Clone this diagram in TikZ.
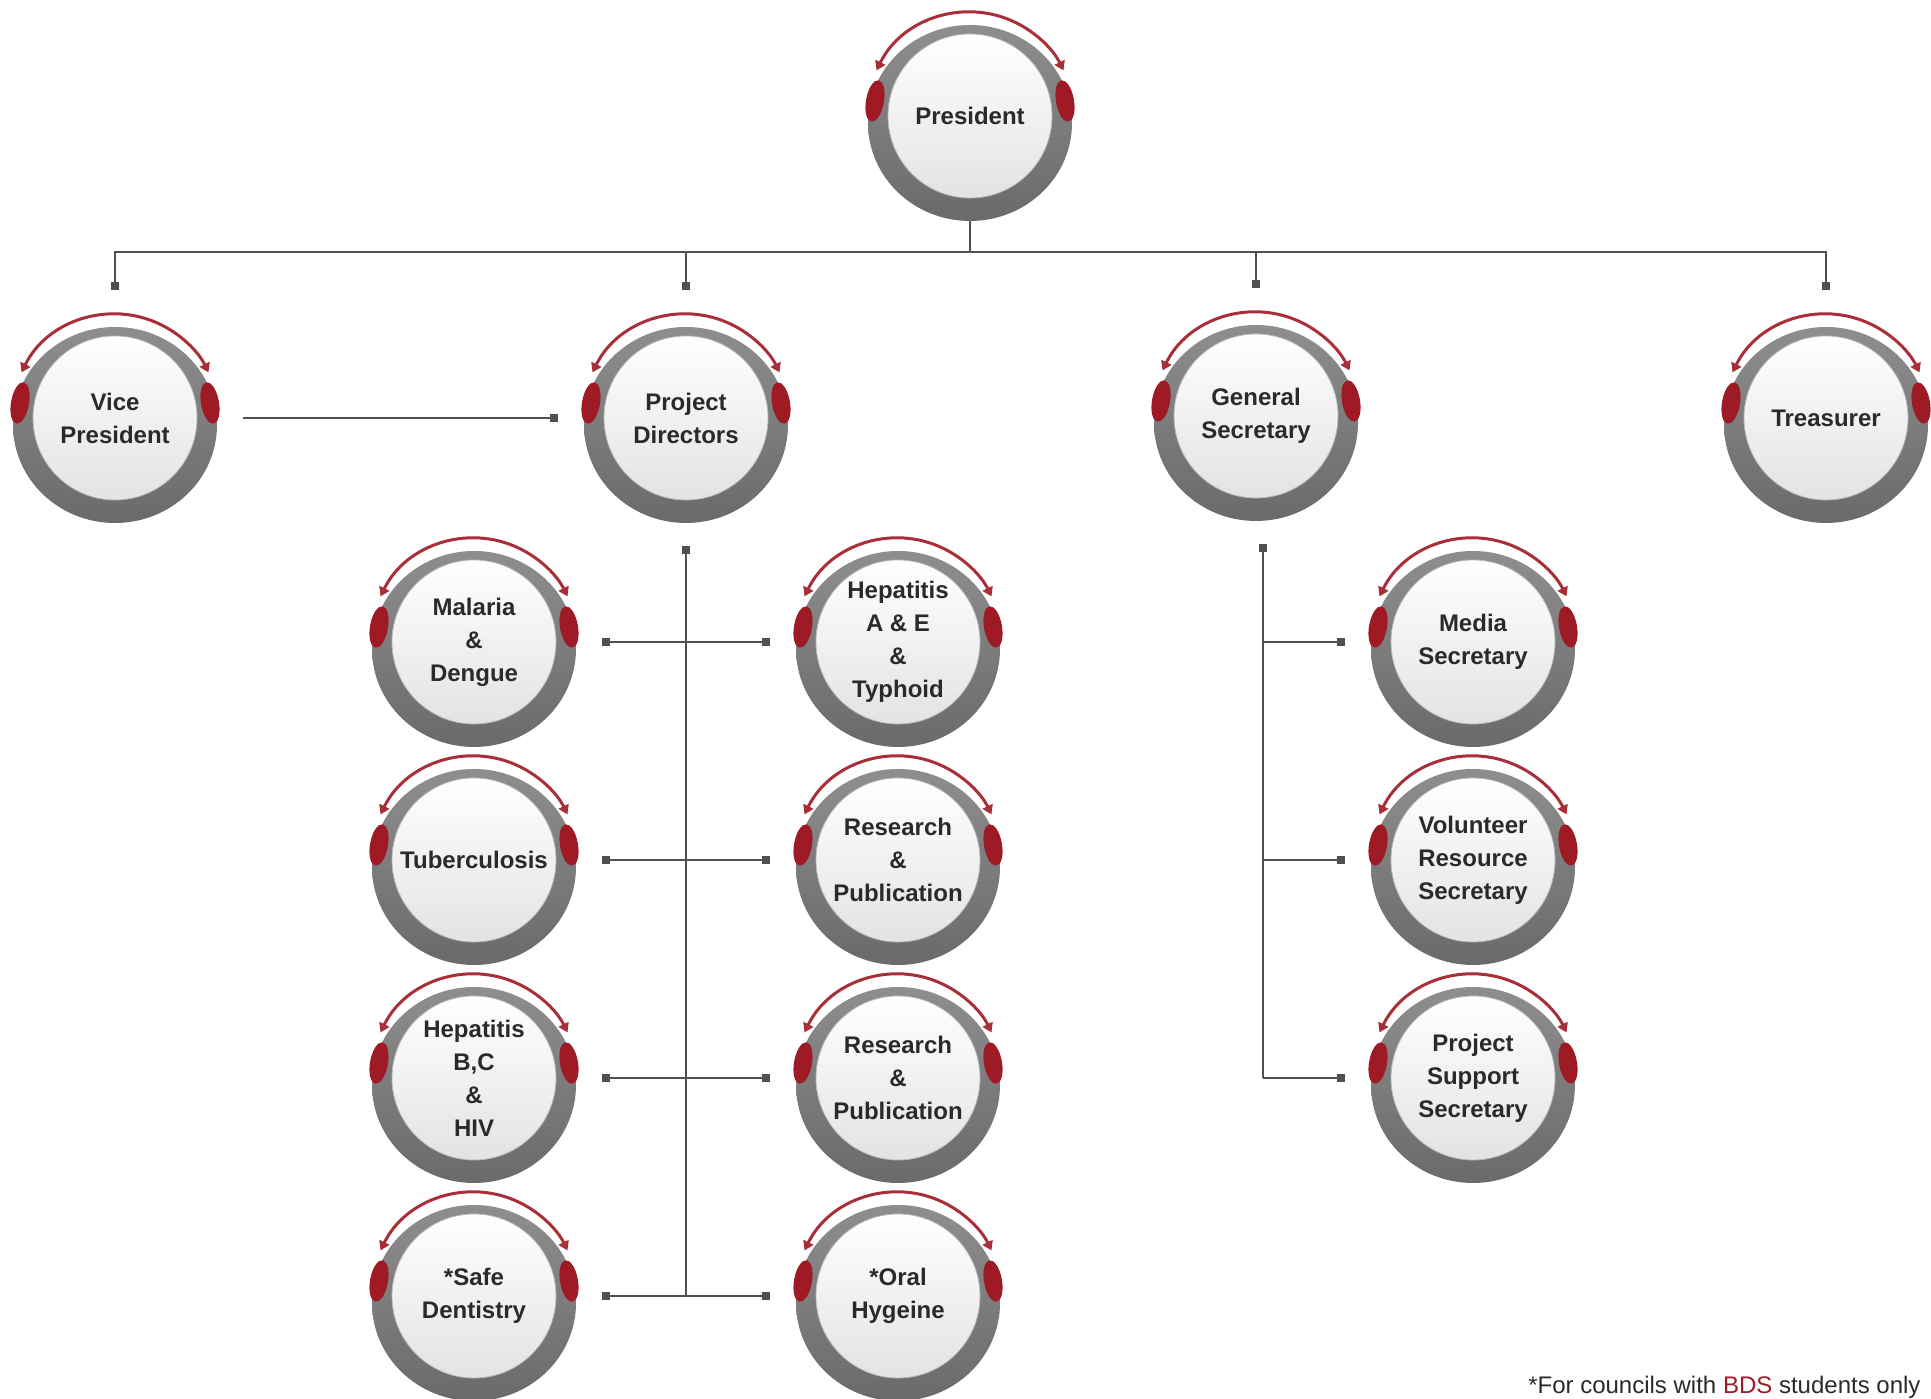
\documentclass[tikz,border=0pt]{standalone}
\usepackage{fontspec}
\setmainfont{Liberation Sans}
\usetikzlibrary{arrows.meta,backgrounds}

\definecolor{ringgray}{HTML}{6A6A6A}
\definecolor{ringlight}{HTML}{8E8E8E}
\definecolor{tabred}{HTML}{9E1B25}
\definecolor{arcred}{HTML}{A82E38}
\definecolor{linegray}{HTML}{505050}
\definecolor{textgray}{HTML}{2A2A2A}

\tikzset{
  member/.style={circle, minimum size=164pt, inner sep=0pt, outer sep=46pt,
    draw=black!28, line width=0.8pt, top color=white, bottom color=black!11,
    align=center, text=textgray, font=\bfseries\fontsize{24}{33}\selectfont},
  link/.style={draw=linegray, line width=2.6pt},
  sq/.tip={Square[length=8pt,width=8pt]},
  tri/.tip={Triangle[length=9pt,width=11pt]}
}

% ring, disc, top arc and side tabs of one member
\newcommand{\member}[3]{%
  \shade[top color=ringlight, bottom color=ringgray] (#2) ++(0,-7) ellipse [x radius=102, y radius=98];
  \node[member] (#1) at (#2) {#3};
  \draw[arcred, line width=3pt, tri-tri] (#1.center) ++(154:104) arc[start angle=154, end angle=26, radius=104];
  \fill[tabred] (#1.center) ++(-95,15) ellipse [x radius=9, y radius=21, rotate=-10];
  \fill[tabred] (#1.center) ++(95,15) ellipse [x radius=9, y radius=21, rotate=10];
}

\begin{document}
\begin{tikzpicture}[x=1pt, y=1pt]
  \useasboundingbox (0,0) rectangle (1931,1399);

  \member{pres}{970,1283}{President}

  \member{vp}{115,981}{Vice\\President}
  \member{pd}{686,981}{Project\\Directors}
  \member{gs}{1256,983}{General\\Secretary}
  \member{tr}{1826,981}{Treasurer}

  \member{md}{474,757}{Malaria\\\&\\Dengue}
  \member{hae}{898,757}{Hepatitis\\A \& E\\\&\\Typhoid}
  \member{tb}{474,539}{Tuberculosis}
  \member{rpa}{898,539}{Research\\\&\\Publication}
  \member{hbc}{474,321}{Hepatitis\\B,C\\\&\\HIV}
  \member{rpb}{898,321}{Research\\\&\\Publication}
  \member{sd}{474,103}{*Safe\\Dentistry}
  \member{oh}{898,103}{*Oral\\Hygeine}

  \member{ms}{1473,757}{Media\\Secretary}
  \member{vrs}{1473,539}{Volunteer\\Resource\\Secretary}
  \member{pss}{1473,321}{Project\\Support\\Secretary}

  \node[anchor=east, text=textgray, font=\fontsize{24}{28}\selectfont] (note) at (1924,12)
    {*For councils with \textcolor{tabred}{BDS} students only};

  \begin{scope}[on background layer]
    \coordinate (bus) at (970,1147);
    \coordinate (gsline) at ([xshift=7pt]gs.south);
    \draw[link] (pres.center) -- (bus);
    \draw[link, line cap=rect] (vp |- bus) -- (tr |- bus);
    \foreach \n in {vp,pd,gs,tr}
      \draw[link, -sq] (\n |- bus) -- (\n.north);
    \draw[link, -sq] (vp.east) -- (pd.west);
    % project directors
    \draw[link, sq-] (pd.south) -- (pd |- sd);
    \foreach \l/\r in {md/hae, tb/rpa, hbc/rpb, sd/oh}
      \draw[link, sq-sq] (\l.east) -- (\r.west);
    % general secretary
    \draw[link, sq-] (gsline) -- (gsline |- pss);
    \foreach \n in {ms, vrs, pss}
      \draw[link, -sq] (gsline |- \n) -- (\n.west);
  \end{scope}
\end{tikzpicture}
\end{document}
